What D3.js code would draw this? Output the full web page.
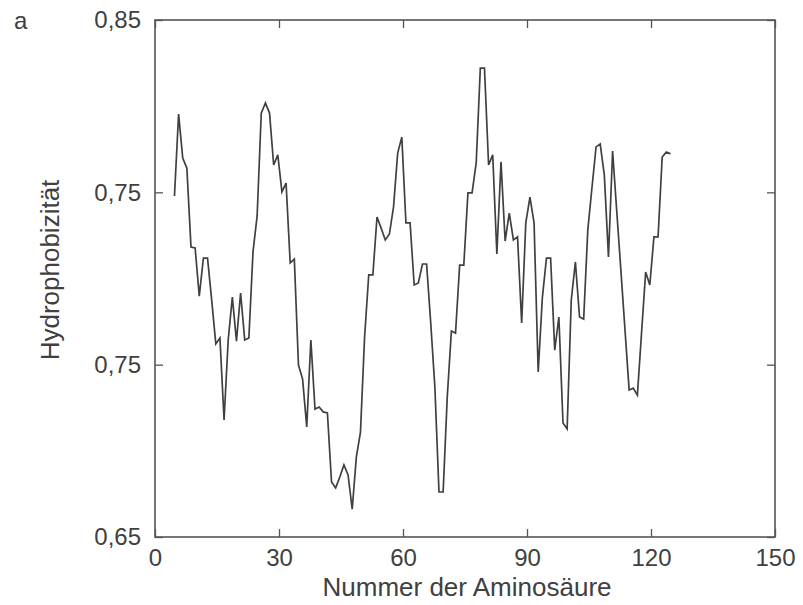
<!DOCTYPE html>
<html>
<head>
<meta charset="utf-8">
<script src="https://cdn.jsdelivr.net/npm/d3@7"></script>
<style>
  body { margin: 0; background: #fff; }
  text { font-family: "Liberation Sans", Arial, sans-serif; fill: #404040; }
</style>
</head>
<body>
<div id="chart"></div>
<script>
// residue numbers run from 5 to 125 (sliding window)
const firstResidue = 5;

// hydrophobicity per residue
const hydroValues = [
    0.7819, 0.8136, 0.7966, 0.7927, 0.7622, 0.7618, 0.7432, 0.7579, 0.7579, 0.7417,
    0.7247, 0.7270, 0.6953, 0.7262, 0.7428, 0.7258, 0.7444, 0.7262, 0.7270, 0.7603,
    0.7742, 0.8140, 0.8179, 0.8140, 0.7939, 0.7978, 0.7835, 0.7869, 0.7560, 0.7575,
    0.7165, 0.7111, 0.6926, 0.7262, 0.6995, 0.7003, 0.6984, 0.6980, 0.6713, 0.6690,
    0.6732, 0.6779, 0.6740, 0.6608, 0.6809, 0.6906, 0.7274, 0.7514, 0.7514, 0.7738,
    0.7695, 0.7649, 0.7672, 0.7777, 0.7985, 0.8047, 0.7715, 0.7715, 0.7475, 0.7483,
    0.7556, 0.7556, 0.7328, 0.7080, 0.6674, 0.6674, 0.7042, 0.7297, 0.7289, 0.7552,
    0.7552, 0.7831, 0.7831, 0.7947, 0.8314, 0.8314, 0.7939, 0.7978, 0.7595, 0.7951,
    0.7645, 0.7753, 0.7649, 0.7661, 0.7328, 0.7715, 0.7815, 0.7715, 0.7138, 0.7425,
    0.7579, 0.7579, 0.7223, 0.7351, 0.6941, 0.6918, 0.7417, 0.7564, 0.7351, 0.7343,
    0.7688, 0.7850, 0.8009, 0.8020, 0.7900, 0.7583, 0.7993, 0.7761, 0.7533, 0.7301,
    0.7069, 0.7076, 0.7049, 0.7289, 0.7525, 0.7475, 0.7661, 0.7661, 0.7970, 0.7989,
    0.7982
];

const xTickValues = [0, 30, 60, 90, 120, 150];
// the printed y labels (as in the original figure)
const yTickLabels = ["0,65", "0,75", "0,75", "0,85"];

const panelLabel = "a";
const xTitle = "Nummer der Aminosäure";
const yTitle = "Hydrophobizität";

function drawChart()
{
    // set the dimensions and margins of the graph
    const margin = { top: 20, right: 28, bottom: 68, left: 155 },
        width = 803 - margin.left - margin.right,
        height = 605 - margin.top - margin.bottom;

    const svg = d3.select("#chart")
        .append("svg")
        .attr("width", 803)
        .attr("height", 605);

    const g = svg.append("g")
        .attr("transform", `translate(${margin.left},${margin.top})`);

    const data = hydroValues.map((v, i) => ({ n: firstResidue + i, v: v }));

    const x = d3.scaleLinear().domain([0, 150]).range([0, width]);
    const y = d3.scaleLinear().domain([0.65, 0.85]).range([height, 0]);

    // y ticks sit at thirds of the range
    const yTickValues = yTickLabels.map((d, i) => 0.65 + i * 0.2 / (yTickLabels.length - 1));
    const yFormat = (d) => yTickLabels[yTickValues.indexOf(d)];

    const tickLen = 8;
    const axisColor = "#555";

    // bottom axis, ticks pointing inwards
    const xAxis = g.append("g")
        .attr("transform", `translate(0,${height})`)
        .call(d3.axisBottom(x).tickValues(xTickValues).tickSizeInner(-tickLen).tickSizeOuter(0).tickPadding(12));
    xAxis.select(".domain").remove();
    xAxis.selectAll("line").attr("stroke", axisColor).attr("stroke-width", 1.3);
    xAxis.selectAll("text").style("font-size", "24px").attr("fill", "#404040");

    // top axis, ticks only
    const xTop = g.append("g")
        .call(d3.axisTop(x).tickValues(xTickValues).tickSizeInner(-tickLen).tickSizeOuter(0).tickFormat(""));
    xTop.select(".domain").remove();
    xTop.selectAll("line").attr("stroke", axisColor).attr("stroke-width", 1.3);

    // left axis
    const yAxis = g.append("g")
        .call(d3.axisLeft(y).tickValues(yTickValues).tickFormat(yFormat).tickSizeInner(-tickLen).tickSizeOuter(0).tickPadding(14));
    yAxis.select(".domain").remove();
    yAxis.selectAll("line").attr("stroke", axisColor).attr("stroke-width", 1.3);
    yAxis.selectAll("text").style("font-size", "24px").attr("fill", "#404040");

    // right axis, ticks only
    const yRight = g.append("g")
        .attr("transform", `translate(${width},0)`)
        .call(d3.axisRight(y).tickValues(yTickValues).tickSizeInner(-tickLen).tickSizeOuter(0).tickFormat(""));
    yRight.select(".domain").remove();
    yRight.selectAll("line").attr("stroke", axisColor).attr("stroke-width", 1.3);

    // frame
    g.append("rect")
        .attr("width", width)
        .attr("height", height)
        .attr("fill", "none")
        .attr("stroke", axisColor)
        .attr("stroke-width", 1.6);

    // the profile line
    g.append("path")
        .datum(data)
        .attr("d", d3.line().x(d => x(d.n) - 1.2).y(d => y(d.v)))
        .attr("fill", "none")
        .attr("stroke", "#404040")
        .attr("stroke-width", 1.7)
        .attr("stroke-linejoin", "miter");

    // axis titles
    svg.append("text")
        .attr("x", margin.left + width / 2 + 2)
        .attr("y", 596)
        .attr("text-anchor", "middle")
        .style("font-size", "26px")
        .text(xTitle);

    svg.append("text")
        .attr("transform", `translate(59,270) rotate(-90)`)
        .attr("text-anchor", "middle")
        .style("font-size", "26px")
        .text(yTitle);

    // panel letter
    svg.append("text")
        .attr("x", 14)
        .attr("y", 29)
        .style("font-size", "24px")
        .text(panelLabel);
}

drawChart();
</script>
</body>
</html>
